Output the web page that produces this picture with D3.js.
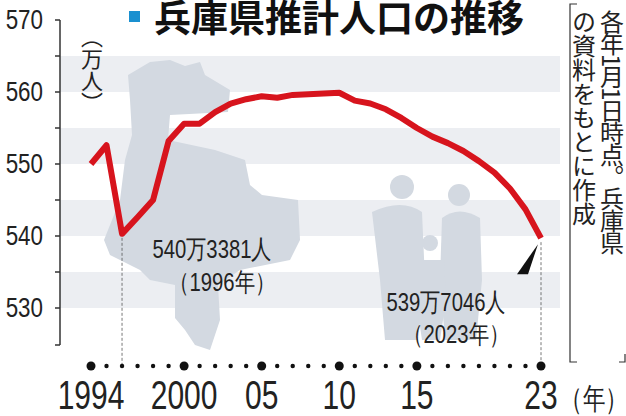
<!DOCTYPE html>
<html><head><meta charset="utf-8">
<script src="https://cdn.jsdelivr.net/npm/d3@7"></script>
<style>body{margin:0;background:#fff}</style></head>
<body><svg id="c" width="626" height="416"></svg>
<script>
const years = d3.range(1994, 2024);
const pop = [550.0,552.6,540.3,542.6,545.0,553.2,555.6,555.6,557.2,558.4,559.0,559.4,559.2,559.6,559.7,559.8,559.9,558.8,558.4,557.6,556.4,555.0,553.8,552.9,551.8,550.4,548.8,546.6,543.7,539.7];
const yTicks = [530, 540, 550, 560, 570];
const bands = [[560,565],[550,555],[540,545],[530,535]];
const xLabels = [[1994,"1994"],[2000,"2000"],[2005,"05"],[2010,"10"],[2015,"15"],[2023,"23"]];

const svg = d3.select("#c");
const x = d3.scaleLinear().domain([1994, 2023]).range([91, 541]);
const y = d3.scaleLinear().domain([530, 570]).range([308, 20]);
const font = "'Liberation Sans',sans-serif";
const jp = "'Noto Sans CJK JP',sans-serif";

// narrow text helper: horizontally compressed
function ntext(tx, ty, s, size, anchor, sx) {
  return svg.append("text").attr("transform", `translate(${tx},${ty}) scale(${sx || 0.78},1)`)
    .attr("text-anchor", anchor || "middle").attr("font-family", font)
    .attr("font-size", size).attr("fill", "#222").text(s);
}

svg.selectAll("rect.band").data(bands).join("rect")
  .attr("x", 60).attr("width", 500)
  .attr("y", d => y(d[1])).attr("height", d => y(d[0]) - y(d[1]))
  .attr("fill", "#eceef2");

// silhouettes (rough)
const sil = "#d3d9e1";
svg.append("path").attr("fill", sil)
  .attr("d", "M128,75 L150,62 L170,60 L185,66 L200,62 L205,75 L230,90 L228,112 L170,115 L168,140 L215,150 L245,160 L250,185 L262,195 L298,200 L300,240 L290,260 L240,270 L218,285 L220,320 L210,350 L195,345 L185,330 L175,318 L175,285 L150,280 L140,270 L110,255 L104,240 L120,200 L125,160 L132,135 L130,100 Z");
svg.append("g").attr("fill", sil).call(g => {
  g.append("circle").attr("cx", 402).attr("cy", 187).attr("r", 12);
  g.append("path").attr("d", "M372,212 Q402,198 422,212 L425,280 L418,340 L385,340 L380,280 Z");
  g.append("circle").attr("cx", 459).attr("cy", 195).attr("r", 11);
  g.append("path").attr("d", "M442,218 Q459,205 480,218 L482,280 L476,340 L445,340 L440,280 Z");
  g.append("circle").attr("cx", 430).attr("cy", 243).attr("r", 8);
  g.append("path").attr("d", "M416,260 L444,260 L446,300 L440,340 L422,340 L416,300 Z");
});

// y axis
svg.append("line").attr("x1", 60).attr("x2", 60).attr("y1", 20).attr("y2", 345)
  .attr("stroke", "#333").attr("stroke-width", 1.5);
svg.selectAll("line.tk").data(d3.range(530, 571, 5).concat([525])).join("line")
  .attr("x1", 55).attr("x2", 60).attr("y1", d => d === 525 ? 345 : y(d)).attr("y2", d => d === 525 ? 345 : y(d))
  .attr("stroke", "#333").attr("stroke-width", 1.5);
yTicks.forEach(d => ntext(43, y(d) + 9, d, 28, "end", 0.8));

// unit
svg.append("text").attr("x", 92).attr("y", 26).attr("font-family", jp).attr("font-size", 22)
  .attr("writing-mode", "vertical-rl").attr("fill", "#222").text("（万人）");

// title
svg.append("rect").attr("x", 129).attr("y", 11).attr("width", 11).attr("height", 11).attr("fill", "#1a90d0");
svg.append("text").attr("x", 154).attr("y", 32).attr("font-family", jp).attr("font-weight", "bold")
  .attr("font-size", 37).attr("fill", "#111").text("兵庫県推計人口の推移");

// dashed guides
[1996, 2023].forEach(yr => {
  svg.append("line").attr("x1", x(yr)).attr("x2", x(yr))
    .attr("y1", y(pop[years.indexOf(yr)]) + 4).attr("y2", 364)
    .attr("stroke", "#555").attr("stroke-dasharray", "3,2").attr("stroke-width", 0.8);
});

// line
svg.append("path").datum(years.map((d, i) => [d, pop[i]]))
  .attr("fill", "none").attr("stroke", "#d7141d").attr("stroke-width", 6)
  .attr("stroke-linejoin", "round")
  .attr("d", d3.line().x(d => x(d[0])).y(d => y(d[1])));

// pointer
svg.append("path").attr("d", `M${x(2023)-3},${y(539.7)+6} L${x(2023)-24},${y(539.7)+36} L${x(2023)-13},${y(539.7)+36} Z`).attr("fill", "#111");

// annotations
ntext(212, 258, "540万3381人", 26);
ntext(222, 291, "（1996年）", 26);
ntext(446, 311, "539万7046人", 26);
ntext(456, 343, "（2023年）", 26);

// dots
const big = xLabels.map(d => d[0]);
svg.selectAll("circle.dot").data(years).join("circle")
  .attr("cx", d => x(d)).attr("cy", 366)
  .attr("r", d => big.includes(d) ? 4.5 : 2.2).attr("fill", "#111");
xLabels.forEach(d => ntext(x(d[0]), 409, d[1], 40, "middle", 0.75));
ntext(594, 409, "（年）", 30, "middle", 0.75);

// source note
const note = svg.append("g").attr("font-family", jp).attr("font-size", 24).attr("fill", "#222");
note.append("text").attr("x", 612).attr("y", 10).attr("writing-mode", "vertical-rl").attr("letter-spacing", -2).text("各年1月1日時点。兵庫県");
note.append("text").attr("x", 584).attr("y", 10).attr("writing-mode", "vertical-rl").text("の資料をもとに作成");
svg.append("path").attr("fill", "none").attr("stroke", "#333").attr("stroke-width", 1.2)
  .attr("d", "M577,4 L570,4 L570,362 L577,362 M619,362 L625,362 L625,354");
</script></body></html>
